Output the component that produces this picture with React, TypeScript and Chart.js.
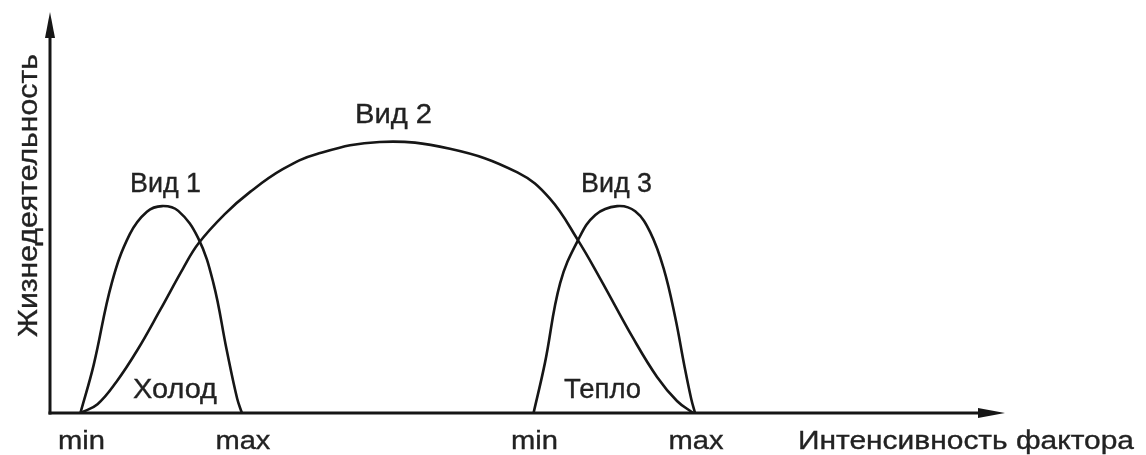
import React, { useEffect, useRef } from "react";
import { Chart, registerables } from "chart.js";

Chart.register(...registerables);

// Intensity of the factor (0..100 along the axis) and vitality (0..100)
const SPECIES1_X = [3.2, 4.6, 6.5, 8.4, 10.2, 11.8, 13.5, 15.6, 17.2, 18.6, 19.7, 20.2];
const SPECIES1_Y = [0, 12.0, 32.4, 44.6, 50.2, 51.6, 50.4, 43.6, 32.4, 15.7, 3.6, 0];

const SPECIES2_X = [3.2, 5.0, 7.0, 9.2, 11.6, 14.0, 15.6, 18.4, 21.1, 24.5, 28.1, 34.7, 42.1, 49.2, 52.6, 55.6, 57.9, 61.4, 63.9, 66.0, 67.7];
const SPECIES2_Y = [0, 2.2, 7.8, 15.7, 25.7, 36.0, 42.2, 49.6, 55.2, 60.8, 64.6, 67.6, 65.9, 60.0, 53.5, 43.0, 33.6, 18.6, 9.0, 3.0, 0];

const SPECIES3_X = [50.9, 52.1, 53.7, 55.6, 57.4, 59.7, 61.6, 63.2, 64.6, 65.8, 66.8, 67.5, 67.9];
const SPECIES3_Y = [0, 12.5, 32.4, 43.2, 49.4, 51.6, 50.3, 45.0, 36.0, 24.0, 11.5, 3.5, 0];

const SERIES_NAMES = ["Вид 1", "Вид 2", "Вид 3"];
const ZONE_LABELS = ["Холод", "Тепло"];
const TICK_VALUES = [3.2, 20.2, 50.9, 67.9];
const TICK_LABELS = ["min", "max", "min", "max"];
const X_TITLE = "Интенсивность фактора";
const Y_TITLE = "Жизнедеятельность";

const FONT = '"Liberation Sans", Arial, Helvetica, sans-serif';
const INK = "#161616";
const TEXT_INK = "#222222";

function toPoints(xs: number[], ys: number[]) {
  return xs.map((x, i) => ({ x, y: ys[i] }));
}

function drawFitted(
  ctx: CanvasRenderingContext2D,
  text: string,
  x: number,
  y: number,
  size: number,
  width: number | null,
  align: CanvasTextAlign,
  rotate = 0
) {
  ctx.save();
  ctx.font = `${size}px ${FONT}`;
  ctx.fillStyle = TEXT_INK;
  ctx.strokeStyle = TEXT_INK;
  ctx.lineWidth = 0.35;
  ctx.textBaseline = "alphabetic";
  ctx.textAlign = align;
  const w = ctx.measureText(text).width;
  const sx = width ? width / w : 1;
  ctx.translate(x, y);
  if (rotate) ctx.rotate(rotate);
  ctx.scale(sx, 1);
  ctx.fillText(text, 0, 0);
  ctx.strokeText(text, 0, 0);
  ctx.restore();
}

const decorPlugin = {
  id: "decor",
  afterDatasetsDraw(chart: any) {
    const { ctx, chartArea, scales } = chart;
    const { left, right, top, bottom } = chartArea;
    ctx.save();
    ctx.strokeStyle = INK;
    ctx.fillStyle = INK;
    ctx.lineWidth = 3;
    // y axis
    ctx.beginPath();
    ctx.moveTo(left, bottom + 1.5);
    ctx.lineTo(left, top + 20);
    ctx.stroke();
    ctx.beginPath();
    ctx.moveTo(left, top);
    ctx.lineTo(left - 5, top + 26);
    ctx.lineTo(left + 5, top + 26);
    ctx.closePath();
    ctx.fill();
    // x axis
    const tipX = right + 5;
    ctx.beginPath();
    ctx.moveTo(left - 1.5, bottom);
    ctx.lineTo(tipX - 20, bottom);
    ctx.stroke();
    ctx.beginPath();
    ctx.moveTo(tipX, bottom);
    ctx.lineTo(tipX - 27, bottom - 5);
    ctx.lineTo(tipX - 27, bottom + 5);
    ctx.closePath();
    ctx.fill();
    ctx.restore();

    // tick labels positioned by the x scale
    const xs = scales.x;
    TICK_VALUES.forEach((v, i) => {
      const px = xs.getPixelForValue(v);
      const w = TICK_LABELS[i] === "min" ? 47 : 55;
      drawFitted(ctx, TICK_LABELS[i], px + 1, bottom + 36, 26, w, "center");
    });

    // titles
    drawFitted(ctx, X_TITLE, 798, bottom + 36, 26, 336, "left");
    drawFitted(ctx, Y_TITLE, 37, 337, 27, 283, "left", -Math.PI / 2);

    // series names and zone labels
    drawFitted(ctx, SERIES_NAMES[0], 130, 192, 27, 71, "left");
    drawFitted(ctx, SERIES_NAMES[1], 355, 123, 27, 77, "left");
    drawFitted(ctx, SERIES_NAMES[2], 581, 192, 27, 71, "left");
    drawFitted(ctx, ZONE_LABELS[0], 133, 398, 27, 84, "left");
    drawFitted(ctx, ZONE_LABELS[1], 564, 398, 27, 77, "left");
  },
};

export default function App() {
  const ref = useRef<HTMLCanvasElement | null>(null);

  useEffect(() => {
    if (!ref.current) return;
    const common = {
      borderColor: INK,
      borderWidth: 2.6,
      pointRadius: 0,
      fill: false,
      tension: 0.4,
    };
    const chart = new Chart(ref.current, {
      type: "line",
      data: {
        datasets: [
          { label: SERIES_NAMES[0], data: toPoints(SPECIES1_X, SPECIES1_Y), ...common },
          { label: SERIES_NAMES[1], data: toPoints(SPECIES2_X, SPECIES2_Y), ...common },
          { label: SERIES_NAMES[2], data: toPoints(SPECIES3_X, SPECIES3_Y), ...common },
        ],
      },
      options: {
        responsive: false,
        animation: false,
        events: [],
        layout: { padding: { left: 50, right: 146, top: 12, bottom: 42 } },
        plugins: { legend: { display: false }, tooltip: { enabled: false }, title: { display: false } },
        scales: {
          x: { type: "linear", min: 0, max: 100, display: false },
          y: { type: "linear", min: 0, max: 100, display: false },
        },
      },
      plugins: [decorPlugin],
    });
    return () => chart.destroy();
  }, []);

  return (
    <div style={{ position: "fixed", left: 0, top: 0, width: 1146, height: 455, background: "#fff" }}>
      <canvas ref={ref} width={1146} height={455} />
    </div>
  );
}
